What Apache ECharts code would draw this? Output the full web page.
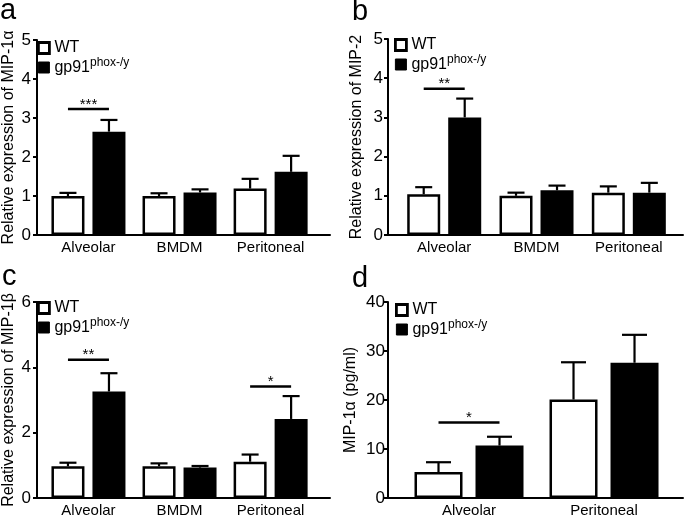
<!DOCTYPE html>
<html><head><meta charset="utf-8">
<script src="https://cdn.jsdelivr.net/npm/echarts@6/dist/echarts.min.js"></script>
<style>html,body{margin:0;padding:0;background:#fff}#c{width:685px;height:518px}</style>
</head><body><div id="c"></div><script>
// ---------- data ----------
const catsABC = ['Alveolar', 'BMDM', 'Peritoneal'];
const catsD = ['Alveolar', 'Peritoneal'];
const groupNames = ['WT', 'gp91'];

// panel a: MIP-1α relative expression
const aWT = [1.0, 1.0, 1.19];
const aWTsem = [0.08, 0.07, 0.25];
const aKO = [2.65, 1.09, 1.62];
const aKOsem = [0.30, 0.08, 0.41];
// panel b: MIP-2 relative expression
const bWT = [1.04, 1.0, 1.08];
const bWTsem = [0.18, 0.08, 0.16];
const bKO = [3.0, 1.14, 1.08];
const bKOsem = [0.48, 0.12, 0.25];
// panel c: MIP-1β relative expression
const cWT = [0.97, 0.97, 1.11];
const cWTsem = [0.11, 0.09, 0.22];
const cKO = [3.26, 0.93, 2.42];
const cKOsem = [0.56, 0.05, 0.70];
// panel d: MIP-1α pg/ml
const dWT = [5.3, 20.1];
const dWTsem = [2.0, 7.6];
const dKO = [10.7, 27.6];
const dKOsem = [1.8, 5.7];

// significance brackets: category index, y value, label
const aSig = [{ cat: 0, y: 3.23, label: '***' }];
const bSig = [{ cat: 0, y: 3.73, label: '**' }];
const cSig = [{ cat: 0, y: 4.23, label: '**' }, { cat: 2, y: 3.41, label: '*' }];
const dSig = [{ cat: 0, y: 15.4, label: '*' }];

// y-axis settings
const aY = { min: 0, max: 5, interval: 1 };
const bY = { min: 0, max: 5, interval: 1 };
const cY = { min: 0, max: 6, interval: 2 };
const dY = { min: 0, max: 40, interval: 10 };

const yNames = ['Relative expression of MIP-1α', 'Relative expression of MIP-2', 'Relative expression of MIP-1β', 'MIP-1α (pg/ml)'];
const panelLetters = ['a', 'b', 'c', 'd'];

// ---------- layout ----------
const FONT = '"Liberation Sans", Arial, Helvetica, sans-serif';
const panels = [
  { cats: catsABC, wt: aWT, wts: aWTsem, ko: aKO, kos: aKOsem, sig: aSig, y: aY,
    grid: { left: 34, top: 40, width: 296, height: 195 }, xr: [0.435, 3.652], bw: 33, gap: 8, cap: 8.5,
    legend: { left: 37, top: 40 }, nameGap: 20, title: { left: 0, top: -4 }, labMargin: 6 },
  { cats: catsABC, wt: bWT, wts: bWTsem, ko: bKO, kos: bKOsem, sig: bSig, y: bY,
    grid: { left: 388, top: 39, width: 295, height: 196 }, xr: [0.391, 3.587], bw: 33, gap: 8, cap: 8.5,
    legend: { left: 394, top: 37 }, nameGap: 23, title: { left: 352, top: -3 }, labMargin: 5 },
  { cats: catsABC, wt: cWT, wts: cWTsem, ko: cKO, kos: cKOsem, sig: cSig, y: cY,
    grid: { left: 34, top: 302, width: 296, height: 196 }, xr: [0.435, 3.652], bw: 33, gap: 8, cap: 8.5,
    legend: { left: 37, top: 300 }, nameGap: 20, title: { left: 2, top: 262 }, labMargin: 6 },
  { cats: catsD, wt: dWT, wts: dWTsem, ko: dKO, kos: dKOsem, sig: dSig, y: dY,
    grid: { left: 388, top: 302, width: 295, height: 196 }, xr: [0.4, 2.585], bw: 48, gap: 13, cap: 12.5,
    legend: { left: 395, top: 302 }, nameGap: 29, title: { left: 352, top: 264 }, labMargin: 3 }
];

function errSeries(gi, means, sems, offsetPx, capHalf) {
  return {
    type: 'custom', xAxisIndex: gi, yAxisIndex: gi, z: 1, silent: true,
    data: means.map((m, i) => [i + 1, m, m + sems[i]]),
    renderItem(params, api) {
      const x = api.value(0);
      const lo = api.coord([x, api.value(1)]);
      const hi = api.coord([x, api.value(2)]);
      const cx = lo[0] + offsetPx;
      return { type: 'group', children: [
        { type: 'line', shape: { x1: cx, y1: lo[1], x2: cx, y2: hi[1] }, style: { stroke: '#000', lineWidth: 2.2 } },
        { type: 'line', shape: { x1: cx - capHalf, y1: hi[1], x2: cx + capHalf, y2: hi[1] }, style: { stroke: '#000', lineWidth: 2.2 } }
      ] };
    }
  };
}

function sigSeries(gi, sig, half) {
  return {
    type: 'custom', xAxisIndex: gi, yAxisIndex: gi, z: 3, silent: true,
    data: sig.map(s => [s.cat + 1, s.y, s.label]),
    renderItem(params, api) {
      const p = api.coord([api.value(0), api.value(1)]);
      const label = sig[params.dataIndex].label;
      return { type: 'group', children: [
        { type: 'line', shape: { x1: p[0] - half, y1: p[1], x2: p[0] + half, y2: p[1] }, style: { stroke: '#000', lineWidth: 2.5 } },
        { type: 'text', style: { text: label, x: p[0], y: p[1] + 3, align: 'center', verticalAlign: 'bottom',
          fontSize: 15, fontFamily: FONT, fill: '#000' } }
      ] };
    }
  };
}

const grids = [], xAxes = [], yAxes = [], series = [], legends = [], titles = [];
panels.forEach((p, gi) => {
  grids.push(Object.assign({ containLabel: false }, p.grid));
  titles.push({ text: panelLetters[gi], left: p.title.left, top: p.title.top, padding: 0,
    textStyle: { fontSize: 29, fontWeight: 'normal', fontFamily: FONT, color: '#000' } });
  const cats = p.cats;
  xAxes.push({
    type: 'value', gridIndex: gi, min: p.xr[0], max: p.xr[1],
    axisLine: { show: true, onZero: false, lineStyle: { color: '#000', width: 2 } },
    axisTick: { show: false },
    splitLine: { show: false },
    axisLabel: { customValues: cats.map((c, i) => i + 1), formatter: v => cats[Math.round(v) - 1] || '',
      color: '#000', fontSize: 15, fontFamily: FONT, margin: 5 }
  });
  yAxes.push({
    type: 'value', gridIndex: gi, min: p.y.min, max: p.y.max, interval: p.y.interval,
    name: yNames[gi], nameLocation: 'middle', nameGap: p.nameGap,
    nameTextStyle: { fontSize: 16, fontFamily: FONT, color: '#000' },
    axisLine: { show: true, lineStyle: { color: '#000', width: 2 } },
    axisTick: { show: true, length: 4, lineStyle: { color: '#000', width: 2 } },
    splitLine: { show: false },
    axisLabel: { color: '#000', fontSize: 17, fontFamily: FONT, margin: p.labMargin }
  });
  const off = (p.bw + p.gap) / 2;
  series.push({
    type: 'bar', name: 'WT', xAxisIndex: gi, yAxisIndex: gi, barWidth: p.bw, barGap: (p.gap / p.bw * 100) + '%',
    itemStyle: { color: '#fff', borderColor: '#000', borderWidth: 2.5 }, z: 2, silent: true,
    data: p.wt.map((v, i) => [i + 1, v])
  });
  series.push({
    type: 'bar', name: 'gp91', xAxisIndex: gi, yAxisIndex: gi, barWidth: p.bw, barGap: (p.gap / p.bw * 100) + '%',
    itemStyle: { color: '#000', borderColor: '#000', borderWidth: 2.5 }, z: 2, silent: true,
    data: p.ko.map((v, i) => [i + 1, v])
  });
  series.push(errSeries(gi, p.wt, p.wts, -off, p.cap));
  series.push(errSeries(gi, p.ko, p.kos, off, p.cap));
  series.push(sigSeries(gi, p.sig, off));
  legends.push({
    left: p.legend.left, top: p.legend.top, orient: 'vertical', itemGap: 1, itemWidth: 11, itemHeight: 11,
    selectedMode: false, padding: 0,
    data: [
      { name: 'WT', icon: 'rect', itemStyle: { color: '#fff', borderColor: '#000', borderWidth: 2.8 } },
      { name: 'gp91', icon: 'rect', itemStyle: { color: '#000', borderColor: '#000', borderWidth: 1 } }
    ],
    formatter: n => n === 'gp91' ? '{m|gp91}{s|phox-/y}' : '{m|WT}',
    textStyle: { color: '#000', fontSize: 16, fontFamily: FONT,
      rich: { m: { fontSize: 16, fontFamily: FONT, color: '#000' },
              s: { fontSize: 12, fontFamily: FONT, color: '#000', padding: [0, 0, 9, 0] } } }
  });
});

const chart = echarts.init(document.getElementById('c'), null, { renderer: 'canvas' });
chart.setOption({
  animation: false,
  backgroundColor: '#fff',
  title: titles,
  grid: grids,
  xAxis: xAxes,
  yAxis: yAxes,
  legend: legends,
  series: series
});
</script></body></html>
